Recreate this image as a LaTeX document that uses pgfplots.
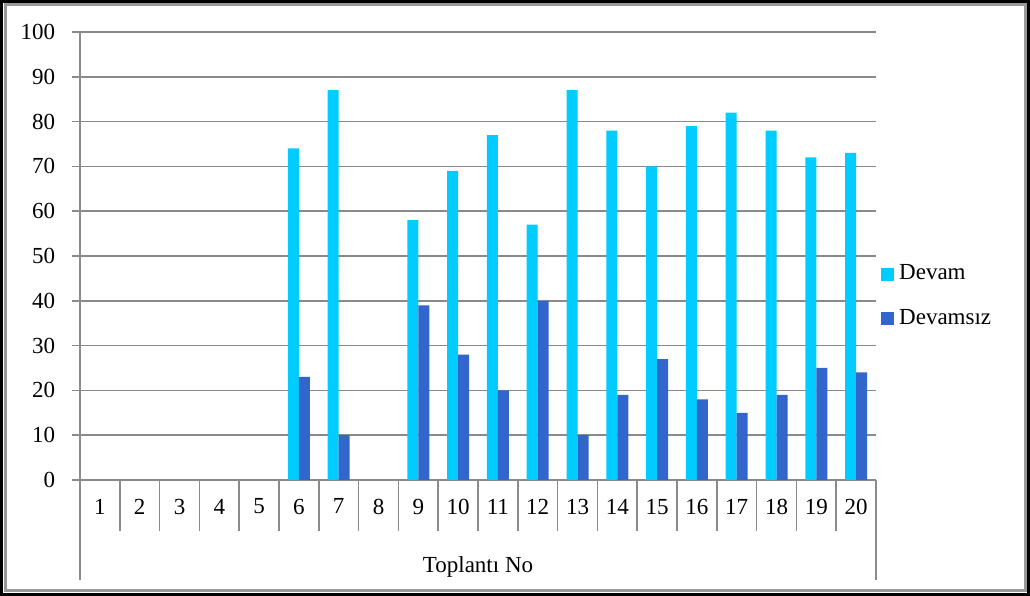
\documentclass[border=0pt]{standalone}
\usepackage{fontspec}
\setmainfont{Liberation Serif}
\usepackage{pgfplots}
\pgfplotsset{compat=1.18}
\definecolor{devam}{HTML}{00CCFF}
\definecolor{devamsiz}{HTML}{3366CC}
\definecolor{gridgray}{HTML}{8A8A8A}
\begin{document}
\fontsize{23}{27}\selectfont
\begin{tikzpicture}[x=1pt,y=1pt]
\useasboundingbox (0,0) rectangle (1030,596);
\fill[white] (0,0) rectangle (1030,596);
\begin{axis}[
  at={(80pt,116pt)}, anchor=south west,
  scale only axis, width=796pt, height=448pt,
  xmin=0.5, xmax=20.5, ymin=0, ymax=100,
  axis x line*=bottom, axis y line*=left,
  axis line style={gridgray, line width=1.5pt},
  ybar=0pt, bar width=11pt,
  ytick={0,10,...,100},
  ymajorgrids, grid style={gridgray, line width=1.5pt},
  tick align=outside, major tick length=8pt,
  ytick style={draw=gridgray, line width=1.5pt},
  yticklabel style={xshift=-9pt},
  xtick={1,...,20},
  xtick style={draw=none},
  xticklabel style={yshift=-3pt},
  /pgf/number format/assume math mode=true,
  legend style={at={(1,0.41)}, anchor=west, xshift=2pt, draw=none, fill=none,
    row sep=22pt},
  legend cell align=left,
]
\addplot[fill=devam, draw=none,
  legend image code/.code={\fill[devam] (0pt,-6.5pt) rectangle (13pt,6.5pt);
    \path (16pt,0pt);}]
  coordinates {(6,74) (7,87) (9,58) (10,69) (11,77) (12,57) (13,87) (14,78)
    (15,70) (16,79) (17,82) (18,78) (19,72) (20,73)};
\addplot[fill=devamsiz, draw=none,
  legend image code/.code={\fill[devamsiz] (0pt,-6.5pt) rectangle (13pt,6.5pt);
    \path (16pt,0pt);}]
  coordinates {(6,23) (7,10) (9,39) (10,28) (11,20) (12,40) (13,10) (14,19)
    (15,27) (16,18) (17,15) (18,19) (19,25) (20,24)};
\legend{Devam, Devamsız}
\end{axis}
% category separators under the x axis
\foreach \k in {1,...,19}
  \draw[gridgray, line width=1.5pt] (80+39.8*\k,116) -- ++(0,-51);
\draw[gridgray, line width=1.5pt] (80,116) -- (80,16);
\draw[gridgray, line width=1.5pt] (876,116) -- (876,16);
\node[anchor=base] at (478,23) {Toplantı No};
\draw[gray!80, line width=3pt] (5,5) rectangle (1025,591);
\draw[black, line width=3pt] (1.5,1.5) rectangle (1028.5,594.5);
\end{tikzpicture}
\end{document}
